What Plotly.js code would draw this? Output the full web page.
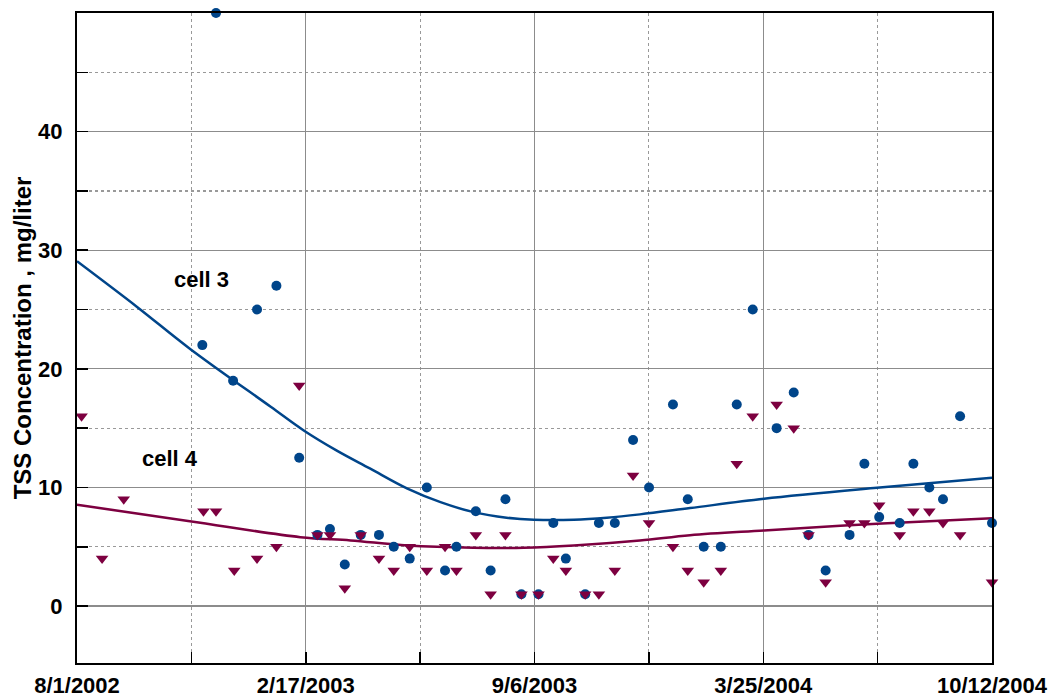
<!DOCTYPE html>
<html>
<head>
<meta charset="utf-8">
<script src="https://cdn.plot.ly/plotly-3.0.1.min.js"></script>
<style>html,body{margin:0;padding:0;background:#fff;}#chart{width:1051px;height:698px;}</style>
</head>
<body>
<div id="chart"></div>
<script>
// Cell 3 (blue circles)
const cell3Dates = ['2002-11-19','2002-12-01','2002-12-16','2003-01-06','2003-01-23','2003-02-12','2003-02-28','2003-03-11','2003-03-24','2003-04-07','2003-04-23','2003-05-06','2003-05-20','2003-06-04','2003-06-20','2003-06-30','2003-07-17','2003-07-30','2003-08-12','2003-08-26','2003-09-10','2003-09-23','2003-10-04','2003-10-21','2003-11-02','2003-11-16','2003-12-02','2003-12-16','2004-01-06','2004-01-19','2004-02-02','2004-02-17','2004-03-02','2004-03-16','2004-04-06','2004-04-21','2004-05-04','2004-05-19','2004-06-09','2004-06-22','2004-07-05','2004-07-23','2004-08-04','2004-08-18','2004-08-30','2004-09-14','2004-10-12'];
const cell3Values = [22,50,19,25,27,12.5,6,6.5,3.5,6,6,5,4,10,3,5,8,3,9,1,1,7,4,1,7,7,14,10,17,9,5,5,17,25,15,18,6,3,6,12,7.5,7,12,10,9,16,7];

// Cell 4 (maroon triangles)
const cell4Dates = ['2002-08-05','2002-08-23','2002-09-11','2002-11-20','2002-12-01','2002-12-17','2003-01-06','2003-01-23','2003-02-12','2003-02-28','2003-03-11','2003-03-24','2003-04-07','2003-04-23','2003-05-06','2003-05-20','2003-06-04','2003-06-20','2003-06-30','2003-07-17','2003-07-30','2003-08-12','2003-08-26','2003-09-10','2003-09-23','2003-10-04','2003-10-21','2003-11-02','2003-11-16','2003-12-02','2003-12-16','2004-01-06','2004-01-19','2004-02-02','2004-02-17','2004-03-02','2004-03-16','2004-04-06','2004-04-21','2004-05-04','2004-05-19','2004-06-09','2004-06-22','2004-07-05','2004-07-23','2004-08-04','2004-08-18','2004-08-30','2004-09-14','2004-10-12'];
const cell4Values = [16,4,9,8,8,3,4,5,18.6,6,6,1.5,6,4,3,5,3,5,3,6,1,6,1,1,4,3,1,1,3,11,7,5,3,2,3,12,16,17,15,6,2,7,7,8.5,6,8,8,7,6,2];

// Fitted trend curves
const fit3Dates = ['2002-08-01','2002-09-23','2002-11-08','2003-01-18','2003-02-16','2003-03-17','2003-04-15','2003-05-18','2003-06-16','2003-07-15','2003-08-13','2003-09-06','2003-10-11','2003-11-09','2003-12-08','2004-01-21','2004-03-26','2004-07-03','2004-10-12'];
const fit3Values = [29.07,25.2,21.7,16.8,14.8,13.1,11.6,9.9,8.76,7.92,7.45,7.28,7.28,7.45,7.73,8.26,9.05,9.97,10.82];
const fit4Dates = ['2002-08-01','2002-11-08','2003-02-13','2003-03-29','2003-05-18','2003-07-15','2003-08-28','2003-10-11','2003-12-08','2004-01-21','2004-03-26','2004-07-03','2004-10-12'];
const fit4Values = [8.54,7.16,5.81,5.53,5.11,4.92,4.92,5.11,5.53,5.98,6.38,6.94,7.41];

// Axis ticks
const xTickVals = ['2002-08-01','2003-02-17 18:00','2003-09-06 12:00','2004-03-25 06:00','2004-10-12'];
const xTickText = ['8/1/2002','2/17/2003','9/6/2003','3/25/2004','10/12/2004'];
const xMinorVals = ['2002-11-09 09:00','2003-05-29 03:00','2003-12-15 21:00','2004-07-03 15:00'];
const yTickVals = [0,10,20,30,40];
const yTickText = ['0','10','20','30','40'];

const labels = [
  {text:'cell 3', x:'2002-11-18', y:27.5},
  {text:'cell 4', x:'2002-10-22', y:12.4}
];

const blue = '#00458A';
const maroon = '#7D0040';
const font = 'Liberation Sans, Arial, sans-serif';

const traces = [
  {x:fit3Dates, y:fit3Values, type:'scatter', mode:'lines', line:{color:blue, width:2.5, shape:'spline', smoothing:1}, hoverinfo:'skip'},
  {x:fit4Dates, y:fit4Values, type:'scatter', mode:'lines', line:{color:maroon, width:2.5, shape:'spline', smoothing:1}, hoverinfo:'skip'},
  {x:cell3Dates, y:cell3Values, type:'scatter', mode:'markers', cliponaxis:false, marker:{symbol:'circle', size:10, color:blue}},
  {x:cell4Dates, y:cell4Values, type:'scatter', mode:'markers', cliponaxis:false, marker:{symbol:'triangle-down', size:11, color:maroon}}
];

const layout = {
  width:1051, height:698,
  margin:{l:77, r:59, t:13, b:35},
  paper_bgcolor:'#fff', plot_bgcolor:'#fff',
  showlegend:false,
  font:{family:font, color:'#000'},
  xaxis:{
    type:'date', range:['2002-08-01','2004-10-12'],
    tickmode:'array', tickvals:xTickVals, ticktext:xTickText,
    ticks:'inside', ticklen:11, tickwidth:1.5, tickcolor:'#000',
    showline:true, linecolor:'#000', linewidth:2, mirror:true,
    showgrid:true, gridcolor:'#8c8c8c', gridwidth:1.2,
    zeroline:false,
    tickfont:{family:font, size:22, color:'#000', weight:'bold'},
    ticklabelstandoff:2,
    minor:{tickmode:'array', tickvals:xMinorVals, ticks:'inside', ticklen:11, tickwidth:1.5, tickcolor:'#000', showgrid:true, gridcolor:'#999', gridwidth:1.2, griddash:'dot'}
  },
  yaxis:{
    range:[-4.8,50],
    tickmode:'array', tickvals:yTickVals, ticktext:yTickText,
    ticks:'inside', ticklen:11, tickwidth:1.5, tickcolor:'#000',
    showline:true, linecolor:'#000', linewidth:2, mirror:true,
    showgrid:true, gridcolor:'#8c8c8c', gridwidth:1.2,
    zeroline:false,
    tickfont:{family:font, size:22, color:'#000', weight:'bold'},
    ticklabelstandoff:8,
    title:{text:'TSS Concentration , mg/liter', font:{family:font, size:24, color:'#000', weight:'bold'}, standoff:0},
    minor:{dtick:5, tick0:0, ticks:'inside', ticklen:11, tickwidth:1.5, tickcolor:'#000', showgrid:true, gridcolor:'#999', gridwidth:1.2, griddash:'dot'}
  },
  annotations: labels.map(l => ({text:l.text, x:l.x, y:l.y, xref:'x', yref:'y', showarrow:false, font:{family:font, size:22, color:'#000', weight:'bold'}}))
};

Plotly.newPlot('chart', traces, layout, {displayModeBar:false, staticPlot:true});
</script>
</body>
</html>
